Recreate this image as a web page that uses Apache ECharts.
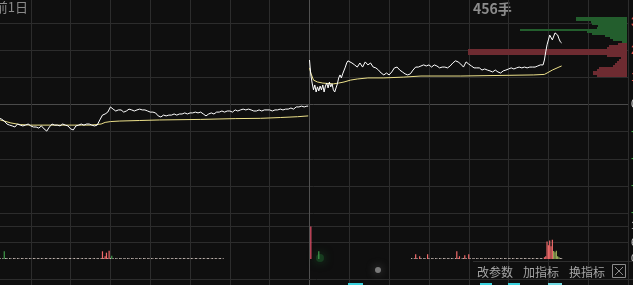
<!DOCTYPE html>
<html><head><meta charset="utf-8">
<script src="https://cdn.jsdelivr.net/npm/echarts@6/dist/echarts.min.js"></script>
<style>html,body{margin:0;padding:0;background:#0f0f0f;overflow:hidden}#c{width:633px;height:285px}</style>
</head><body><div id="c"></div>
<script>
// ---- Price (% vs previous close), intraday minutes (0..239 day 1, 240..479 day 2)
const d1Min = [0,2,4,6,8,10,12,14,16,18,20,22,24,26,28,30,32,34,36,38,40,42,44,46,48,50,52,54,56,58,60,62,64,66,68,70,72,74,76,78,80,82,84,86,88,90,92,94,96,98,100,102,104,106,108,110,112,114,116,118,120,122,124,126,128,130,132,134,136,138,140,142,144,146,148,150,152,154,156,158,160,162,164,166,168,170,172,174,176,178,180,182,184,186,188,190,192,194,196,198,200,202,204,206,208,210,212,214,216,218,220,222,224,226,228,230,232,234,236,238,239];
const d1Price = [-0.42,-0.46,-0.42,-0.50,-0.54,-0.61,-0.72,-0.76,-0.79,-0.83,
 -0.72,-0.76,-0.79,-0.76,-0.72,-0.79,-0.83,-0.83,-0.87,-0.79,
 -0.90,-0.98,-0.83,-0.72,-0.76,-0.76,-0.79,-0.72,-0.76,-0.79,
 -0.90,-0.94,-0.79,-0.76,-0.72,-0.76,-0.72,-0.72,-0.76,-0.79,
 -0.76,-0.57,-0.39,-0.35,-0.28,-0.09,-0.17,-0.24,-0.20,-0.20,
 -0.28,-0.24,-0.17,-0.20,-0.24,-0.20,-0.17,-0.20,-0.20,-0.24,
 -0.28,-0.28,-0.31,-0.42,-0.46,-0.39,-0.42,-0.39,-0.39,-0.35,
 -0.39,-0.35,-0.35,-0.31,-0.35,-0.31,-0.31,-0.28,-0.31,-0.28,
 -0.35,-0.42,-0.35,-0.31,-0.35,-0.28,-0.28,-0.24,-0.28,-0.24,
 -0.24,-0.28,-0.20,-0.24,-0.20,-0.17,-0.20,-0.17,-0.20,-0.24,
 -0.24,-0.20,-0.24,-0.20,-0.20,-0.20,-0.24,-0.20,-0.20,-0.17,
 -0.20,-0.17,-0.17,-0.13,-0.17,-0.09,-0.09,-0.06,-0.09,-0.06,-0.06];
const d1AvgMin = [0,7,15,22,30,68,75,79,83,86,90,97,112,127,158,184,203,218,231,239];
const d1Avg = [-0.50,-0.57,-0.68,-0.74,-0.76,-0.76,-0.76,-0.74,-0.72,-0.66,-0.63,-0.61,-0.59,-0.57,-0.55,-0.52,-0.51,-0.48,-0.45,-0.42];

const d2Min = [240,241,242,243,244,245,246,247,248,249,250,251,252,253,254,255,256,257,258,259,260,261,262,263,264,265,266,267,268,269,270,272,274,276,278,280,282,284,286,288,290,292,294,296,298,300,302,304,306,308,310,312,314,316,318,320,322,324,326,328,330,332,334,336,338,340,342,344,346,348,350,352,354,356,358,360,362,364,366,368,370,372,374,376,378,380,382,384,386,388,390,392,394,396,398,400,402,404,406,408,410,412,414,416,417,418,419,420,421,422,423,424,425,426,427,428,429,430];
const d2Price = [1.64,1.09,0.79,0.54,0.72,0.46,0.65,0.50,0.68,0.54,
 0.72,0.46,0.68,0.79,0.61,0.83,0.65,0.76,0.54,0.46,
 0.61,0.76,0.98,1.09,0.98,1.13,1.20,1.38,1.53,1.61,
 1.64,1.53,1.46,1.38,1.53,1.38,1.57,1.46,1.53,1.38,
 1.35,1.27,1.16,1.09,1.16,1.09,1.20,1.35,1.38,1.27,
 1.20,1.13,1.09,1.13,1.27,1.38,1.38,1.42,1.46,1.42,
 1.46,1.38,1.46,1.42,1.35,1.38,1.38,1.35,1.42,1.53,
 1.61,1.57,1.49,1.38,1.57,1.49,1.42,1.35,1.35,1.35,
 1.27,1.31,1.27,1.24,1.20,1.27,1.20,1.16,1.24,1.27,
 1.31,1.35,1.31,1.35,1.38,1.35,1.38,1.35,1.38,1.38,
 1.38,1.42,1.46,1.46,1.64,1.94,2.20,2.38,2.56,2.53,
 2.38,2.42,2.64,2.68,2.56,2.42,2.31,2.27];
const d2AvgMin = [240,241,243,246,250,258,262,266,271,276,284,296,311,324,354,409,417,419,423,428,430];
const d2Avg = [1.35,1.16,0.90,0.83,0.79,0.76,0.79,0.83,0.90,0.94,0.98,0.98,1.01,1.05,1.05,1.09,1.11,1.16,1.27,1.38,1.42];

// ---- Volume (手), per minute
const volD1 = [30,35,0,30,35,0,35,30,0,35, 280,35,40,0,35,30,0,35,35,0,
 35,30,0,35,35,0,30,35,0,35, 30,0,35,35,0,30,35,0,35,30,
 0,35,35,0,30,35,0,35,30,0, 35,35,0,30,35,0,35,30,0,35,
 35,0,30,35,0,35,35,0,30,35, 0,35,30,0,35,35,0,30,35,0,
 35,30,0,35,280,35,100,230,35,300, 40,120,35,0,35,30,0,35,35,0,
 30,35,0,35,30,0,35,35,0,30, 35,0,35,30,0,35,35,0,30,35,
 0,35,30,0,35,35,0,30,35,0, 35,30,0,35,35,0,30,35,0,35,
 35,0,30,35,0,35,35,0,30,35, 0,35,30,0,35,35,0,30,35,0,
 35,30,0,35,35,0,30,35,0,35, 30,0,35,35,0,30];
const volD2OpenMin = [241,247];
const volD2Open = [1180,280];
const volD2LateStart = 317;
const volD2Late = [35,0,30,175,35,0,100,35,0,30, 35,0,175,35,0,30,35,0,35,30,
 0,35,30,0,35,35,0,30,35,0, 35,30,0,35,280,35,100,0,30,35,
 140,35,0,170,35,0,30,35,0,35, 30,0,35,35,0,30,35,0,35,30,
 0,35,35,0,30,35,0,35,30,0, 35,35,0,30,35,0,35,30,0,35,
 35,0,30,35,0,35,35,0,30,35, 0,35,30,0,35,35,0,30,35,0,
 60,100,640,500,670,460,700,290,250,300,100,60,35,30];
const volGreenMin = [10,91,247,424,425,426,427,428];

// ---- Order book (top to bottom): asks (green) then bids (red)
const bookAsk = [51,51,36,35,29,30,107,40,35,22,17,14,5];
const bookBid = [9,18,20,159,159,159,20,6,8,10,12,14,28,30,34,34,30];

// ---- Axis ticks
const priceTicks = {min:-4, max:4, interval:1};
const volTicks = {min:0, max:1200, interval:600};
const minuteTicks = {min:0, max:480, interval:30};

const GRID = '#2c2c2c', BRIGHT = '#4a4a4a';
const xSplitColors = []; for (let i = 0; i <= 16; i++) xSplitColors.push(i === 8 ? '#505050' : GRID);
const ySplitColors = []; for (let i = 0; i <= 8; i++) ySplitColors.push(i === 4 ? BRIGHT : GRID);

const pairs = (xs, ys) => xs.map((x, i) => [x, ys[i]]);
const volData = [];
const volItem = (m, v) => {
  let c = v < 60 ? '#c4b8b2' : '#f06a6a';
  if (volGreenMin.includes(m)) c = m >= 424 ? '#9fb05c' : '#3f9a4a';
  if (m === 241) c = '#e8506a';
  return {value: [m, v], itemStyle: {color: c}};
};
volD1.forEach((v, i) => { if (v > 0) volData.push(volItem(i, v)); });
volD2OpenMin.forEach((m, i) => volData.push(volItem(m, volD2Open[i])));
volD2Late.forEach((v, i) => { if (v > 0) volData.push(volItem(volD2LateStart + i, v)); });

const bookCats = []; for (let i = 0; i < bookAsk.length + bookBid.length; i++) bookCats.push('r' + i);
const bookData = bookAsk.map(v => ({value: v, itemStyle: {color: '#235e2d'}}))
  .concat(bookBid.map(v => ({value: v, itemStyle: {color: '#6e2b31'}})));

const hiddenX = (gi) => Object.assign({type:'value', gridIndex:gi, show:true, axisLine:{show:false}, axisTick:{show:false}, axisLabel:{show:false}, splitLine:{show:false}}, minuteTicks);
const G = (o) => Object.assign({containLabel:false, outerBoundsMode:'none'}, o);

const chart = echarts.init(document.getElementById('c'), null, {renderer:'canvas'});
chart.setOption({
  animation: false,
  backgroundColor: '#0f0f0f',
  grid: [
    G({left:-9, width:637, top:0, height:285}),
    G({left:-9, width:637, top:-4, height:217}),
    G({left:-9, width:637, top:226, height:33}),
    G({left:460, width:167, top:17, height:60})
  ],
  xAxis: [
    Object.assign({type:'value', gridIndex:0, axisLine:{show:false}, axisTick:{show:false}, axisLabel:{show:false},
      splitLine:{show:true, lineStyle:{color:xSplitColors, width:1}}}, minuteTicks),
    hiddenX(1), hiddenX(2),
    {type:'value', gridIndex:3, min:0, max:167, inverse:true, show:false}
  ],
  yAxis: [
    {type:'value', gridIndex:0, show:false},
    Object.assign({type:'value', gridIndex:1, position:'right', axisLine:{show:false}, axisTick:{show:false},
      axisLabel:{show:true, margin:3, fontSize:12, fontFamily:'Arial',
        formatter: v => v.toFixed(2) + '%',
        color: v => (v > 0 ? '#e0504a' : (v < 0 ? '#3fae4a' : '#d0d0d0'))},
      splitLine:{show:true, lineStyle:{color:ySplitColors, width:1}}}, priceTicks),
    Object.assign({type:'value', gridIndex:2, position:'right', axisLine:{show:false}, axisTick:{show:false},
      axisLabel:{show:true, margin:3, fontSize:11, color:'#c8c8c8'},
      splitLine:{show:true, lineStyle:{color:['rgba(0,0,0,0)', GRID, GRID], width:1}}}, volTicks),
    {type:'category', gridIndex:3, data:bookCats, inverse:true, show:false}
  ],
  series: [
    {type:'bar', xAxisIndex:3, yAxisIndex:3, data:bookData, barCategoryGap:'0%', barGap:'0%', z:1, silent:true},
    {type:'line', xAxisIndex:1, yAxisIndex:1, data:pairs(d1AvgMin, d1Avg), showSymbol:false, lineStyle:{color:'#ece08a', width:1}, z:4},
    {type:'line', xAxisIndex:1, yAxisIndex:1, data:pairs(d1Min, d1Price), showSymbol:false, lineStyle:{color:'#ffffff', width:1}, z:5},
    {type:'line', xAxisIndex:1, yAxisIndex:1, data:pairs(d2AvgMin, d2Avg), showSymbol:false, lineStyle:{color:'#ece08a', width:1}, z:4},
    {type:'line', xAxisIndex:1, yAxisIndex:1, data:pairs(d2Min, d2Price), showSymbol:false, lineStyle:{color:'#ffffff', width:1}, z:5},
    {type:'bar', xAxisIndex:2, yAxisIndex:2, data:volData, barWidth:1.2, z:3, silent:true}
  ],
  graphic: [
    {type:'line', shape:{x1:0, y1:279.5, x2:633, y2:279.5}, style:{stroke:GRID, lineWidth:1}, z:1},
    {type:'text', x:28, y:7, style:{text:'前1日', fill:'#8a8a8a', font:'13px "Noto Sans CJK SC"', textAlign:'right', textVerticalAlign:'middle'}},
    {type:'text', x:473, y:9, style:{text:'456手', fill:'#8c8c8c', font:'bold 14px "Noto Sans CJK SC"', textAlign:'left', textVerticalAlign:'middle'}},
    {type:'circle', shape:{cx:320, cy:258, r:4}, style:{fill:'#1a4a24', shadowBlur:10, shadowColor:'#1f5f2f', opacity:0.7}, z:2},
    {type:'circle', shape:{cx:378, cy:270, r:3}, style:{fill:'#8a8a8a', shadowBlur:8, shadowColor:'#666', opacity:0.85}, z:2},
    {type:'line', shape:{x1:473, y1:261.5, x2:633, y2:261.5}, style:{stroke:'#2e2e2e', lineWidth:1}, z:6},
    {type:'text', x:477, y:272, style:{text:'改参数', fill:'#a6a6a6', font:'12px "Noto Sans CJK SC"', textVerticalAlign:'middle'}, z:6},
    {type:'text', x:523, y:272, style:{text:'加指标', fill:'#a6a6a6', font:'12px "Noto Sans CJK SC"', textVerticalAlign:'middle'}, z:6},
    {type:'text', x:569, y:272, style:{text:'换指标', fill:'#a6a6a6', font:'12px "Noto Sans CJK SC"', textVerticalAlign:'middle'}, z:6},
    {type:'rect', shape:{x:612.5, y:264.5, width:13, height:13}, style:{fill:'none', stroke:'#8a8a8a', lineWidth:1}, z:6},
    {type:'line', shape:{x1:615, y1:267, x2:623, y2:275}, style:{stroke:'#8a8a8a', lineWidth:1}, z:6},
    {type:'line', shape:{x1:623, y1:267, x2:615, y2:275}, style:{stroke:'#8a8a8a', lineWidth:1}, z:6},
    {type:'rect', shape:{x:348, y:283, width:15, height:2}, style:{fill:'#39d0dc'}, z:6},
    {type:'rect', shape:{x:480, y:283, width:12, height:2}, style:{fill:'#39d0dc'}, z:6},
    {type:'rect', shape:{x:508, y:283, width:12, height:2}, style:{fill:'#39d0dc'}, z:6},
    {type:'rect', shape:{x:548, y:283, width:14, height:2}, style:{fill:'#6fd8e0'}, z:6}
  ]
});
</script></body></html>
